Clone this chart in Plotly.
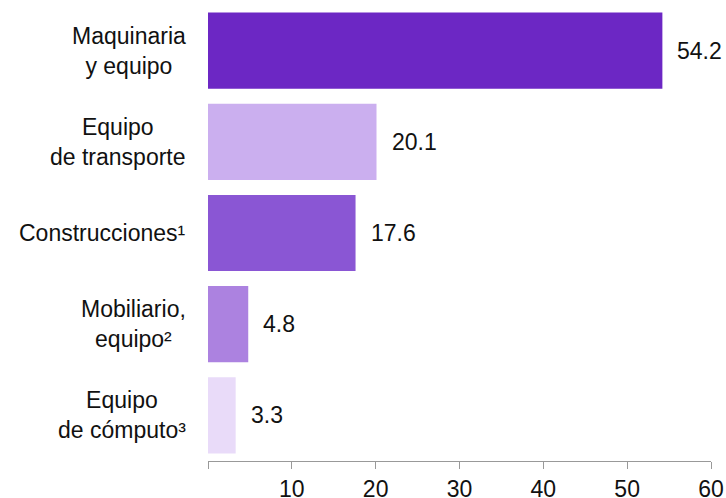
import plotly.graph_objects as go

categories = ["Maquinaria<br>y equipo", "Equipo<br>de transporte", "Construcciones¹",
              "Mobiliario,<br>equipo²", "Equipo<br>de cómputo³"]
values = [54.2, 20.1, 17.6, 4.8, 3.3]
colors = ["#6C27C4", "#CBAFEF", "#8A56D4", "#AC82E0", "#E9DBF9"]
tick_vals = [0, 10, 20, 30, 40, 50, 60]
tick_text = ["", "10", "20", "30", "40", "50", "60"]

FONT = "Liberation Sans, Arial, sans-serif"
FS = 23

fig = go.Figure()
fig.add_trace(go.Bar(
    x=values, y=categories, orientation="h",
    marker=dict(color=colors, line=dict(width=0)),
    hoverinfo="skip",
))

annotations = []
for c, v in zip(categories, values):
    annotations.append(dict(
        x=v, y=c, xref="x", yref="y", text=f"{v:.1f}", showarrow=False,
        xanchor="left", yanchor="middle", xshift=13,
        font=dict(family=FONT, size=FS, color="#111"),
    ))
    annotations.append(dict(
        x=0, y=c, xref="paper", yref="y", text=c, showarrow=False,
        xanchor="right", yanchor="middle", xshift=-20, align="center",
        font=dict(family=FONT, size=FS, color="#111"),
    ))

fig.update_layout(
    width=726, height=498,
    margin=dict(l=208, r=15, t=5, b=37, autoexpand=False),
    plot_bgcolor="white", paper_bgcolor="white",
    bargap=0.165,
    showlegend=False,
    annotations=annotations,
    font=dict(family=FONT, size=FS, color="#111"),
    xaxis=dict(
        range=[0, 60], tickvals=tick_vals, ticktext=tick_text,
        showgrid=False, zeroline=False, showline=True,
        linecolor="#999", linewidth=1.3,
        ticks="outside", ticklen=7, tickcolor="#999", tickwidth=1.3,
        ticklabelstandoff=0,
        tickfont=dict(family=FONT, size=FS, color="#111"),
        automargin=False,
        fixedrange=True,
    ),
    yaxis=dict(
        categoryorder="array", categoryarray=categories[::-1],
        range=[-0.5, 4.5], showticklabels=False, showgrid=False,
        zeroline=False, showline=False, ticks="",
        automargin=False,
        fixedrange=True,
    ),
)

fig.write_html("out.html", config={"displayModeBar": False})

with open("out.html", "r", encoding="utf-8") as f:
    html = f.read()
html = html.replace("<body>", '<body style="margin:0;overflow:hidden">', 1)
with open("out.html", "w", encoding="utf-8") as f:
    f.write(html)
